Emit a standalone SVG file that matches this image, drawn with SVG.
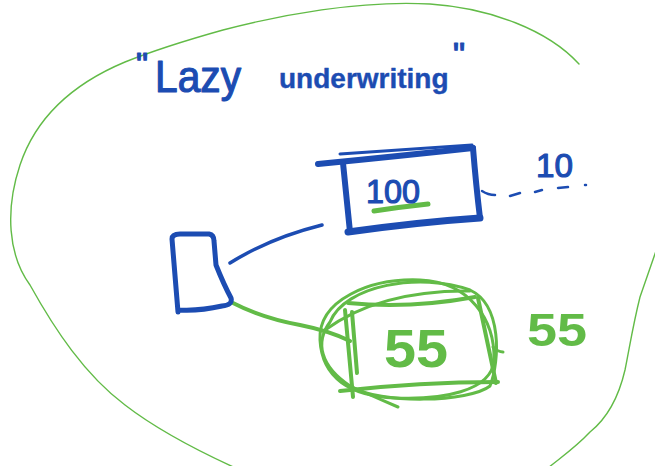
<svg xmlns="http://www.w3.org/2000/svg" width="655" height="466" viewBox="0 0 655 466">
  <style>
    .ink-blue { fill: none; stroke: #1c4cb2; stroke-linecap: round; stroke-linejoin: round; }
    .ink-green { fill: none; stroke: #62bb47; stroke-linecap: round; stroke-linejoin: round; }
    .hand { font-family: "Liberation Sans", "DejaVu Sans", sans-serif; }
    .txt-blue { fill: #1c4cb2; stroke: #1c4cb2; stroke-width: 1.2; stroke-linejoin: round; }
    .txt-green { fill: #62bb47; font-weight: bold; }
  </style>
  <rect width="655" height="466" fill="#ffffff"/>

  <!-- outer boundary drawn as two loose strokes -->
  <g id="boundary" class="ink-green" stroke-width="1.4">
    <path d="M579,64 C548,30 490,8 430,4 C360,0 280,15 223,30 C180,42 150,52 125,62 C70,85 35,120 20,165 C5,210 8,255 30,285 C55,330 85,375 125,405 C160,432 200,452 240,470"/>
    <path d="M657,248 L640,297 C633,325 630,345 625,370 C618,400 605,420 590,432 C575,448 560,458 548,468"/>
  </g>

  <!-- heading -->
  <g id="title" class="hand txt-blue">
    <text x="136" y="76" font-size="34">"</text>
    <text x="155" y="92" font-size="44" textLength="86" lengthAdjust="spacingAndGlyphs">Lazy</text>
    <text x="279" y="88" font-size="28" font-weight="bold" stroke-width="0.4">underwriting</text>
    <text x="453" y="66" font-size="34">"</text>
  </g>

  <!-- connectors -->
  <g id="connectors">
    <path class="ink-blue" stroke-width="3.5" d="M230,263 Q270,238 322,225"/>
    <path class="ink-green" stroke-width="4" d="M233,303 Q262,318 300,325 Q330,331 350,341"/>
    <g class="ink-blue" stroke-width="2.5">
      <path d="M482,191 Q488,195 495,195"/>
      <path d="M510,196 L520,193"/>
      <path d="M535,192 L542,190"/>
      <path d="M558,188 L568,187"/>
      <path d="M585,185 L586,185"/>
    </g>
  </g>

  <!-- node: box holding 100 -->
  <g id="node-100">
    <g class="ink-blue">
      <path stroke-width="6" d="M318,164 Q400,156 473,148"/>
      <path stroke-width="3" d="M340,154 Q410,149 472,145"/>
      <path stroke-width="6" d="M343,163 L350,232"/>
      <path stroke-width="7" d="M348,232 Q420,222 480,218"/>
      <path stroke-width="6" d="M473,148 Q476,185 480,218"/>
    </g>
    <path class="ink-green" stroke-width="5" d="M374,211 Q400,207 428,204"/>
    <text class="hand txt-blue" x="366" y="203" font-size="34" textLength="54" lengthAdjust="spacingAndGlyphs">100</text>
  </g>

  <!-- side label -->
  <g id="label-10">
    <text class="hand txt-blue" x="536" y="177" font-size="34" textLength="37" lengthAdjust="spacingAndGlyphs">10</text>
  </g>

  <!-- node: small container -->
  <g id="node-cup">
    <path class="ink-blue" stroke-width="5" d="M178,312 L172,239 Q172,234 180,234 L209,234 Q214,235 214,241 L216,265 Q224,285 231,298 Q233,305 222,306 Q200,311 180,310"/>
  </g>

  <!-- node: circled box holding 55 -->
  <g id="node-55">
    <g class="ink-green" stroke-width="3">
      <path d="M330,322 C345,285 420,272 470,290 C502,305 500,360 490,386 C470,402 380,405 350,386 C320,366 315,342 330,322"/>
      <path d="M320,340 C318,300 370,278 420,280 C470,282 495,320 494,360 C492,392 440,400 395,398 C350,396 322,378 320,340"/>
      <path d="M325,330 Q380,290 470,291"/>
      <path d="M343,383 Q370,395 398,407"/>
      <path d="M493,347 Q498,352 503,352"/>
    </g>
    <g class="ink-green" stroke-width="4">
      <path d="M348,303 Q410,309 475,297"/>
      <path d="M478,298 Q487,340 496,383"/>
      <path d="M352,312 L357,373"/>
      <path d="M345,310 Q349,355 353,397"/>
      <path d="M340,391 Q420,382 498,382"/>
    </g>
    <text class="hand txt-green" x="384" y="367" font-size="54" textLength="64" lengthAdjust="spacingAndGlyphs">55</text>
  </g>

  <!-- side label -->
  <g id="label-55">
    <text class="hand txt-green" x="527" y="346" font-size="46" textLength="60" lengthAdjust="spacingAndGlyphs">55</text>
  </g>
</svg>
